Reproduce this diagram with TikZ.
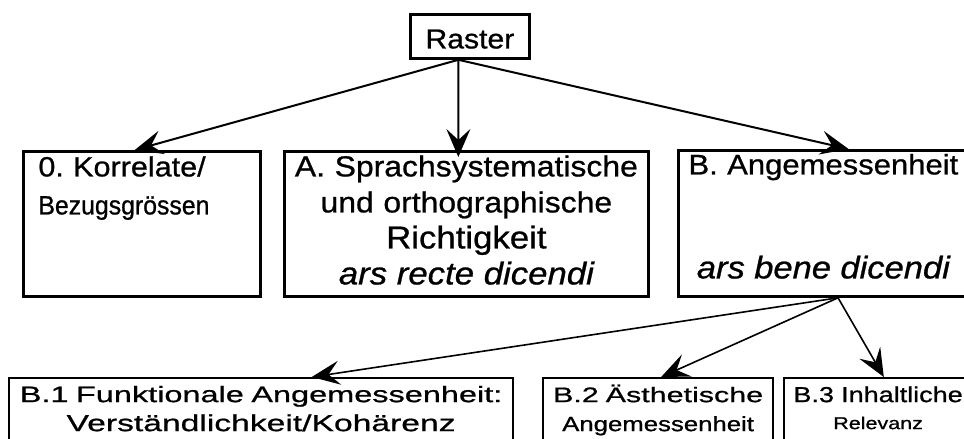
\documentclass[tikz,border=0pt]{standalone}
\usepackage{fontspec}
\setmainfont[FakeStretch=1.1,FakeBold=0.8]{Liberation Sans}
\newfontfamily\narrowfont[FakeStretch=0.94,FakeBold=0.8]{Liberation Sans}
\newfontfamily\widefont[FakeStretch=1.45,FakeBold=0.8]{Liberation Sans}
\newfontfamily\lowfont[FakeStretch=1.25,FakeBold=0.9]{Liberation Sans}
\usetikzlibrary{arrows.meta,calc}
\tikzset{
  box/.style={draw, line width=1.4pt, anchor=north west, inner sep=0pt,
    align=center, text height=12.5pt, text depth=60pt},
  subbox/.style={box, line width=1.1pt, text height=12pt, text depth=40pt},
  link/.style={-{Stealth[length=14pt,width=12pt,inset=5.5pt]}, line width=1pt},
}
\frenchspacing
\begin{document}
\begin{tikzpicture}[x=0.5pt,y=-0.5pt]
    \useasboundingbox (0,0) rectangle (964,439);
    \clip (0,0) rectangle (964,439);
    % top and middle row
    \node[box, text width=59.5pt, text height=17pt, text depth=5pt,
      font=\fontsize{13.7}{18}\selectfont] (raster) at (409,13) {Raster};
    \node[box, align=left, inner xsep=7.5pt, text width=103.5pt,
      font=\fontsize{13.9}{18}\selectfont] (korr) at (22,150)
      {0. Korrelate/\\[1pt]{\narrowfont\fontsize{13.2}{18}\selectfont Bezugsgrössen}};
    \node[box, text width=182pt, font=\fontsize{14.5}{18}\selectfont] (sprach) at (283,150)
      {A. Sprachsystematische\\und orthographische\\
       {\fontsize{15.8}{18}\selectfont Richtigkeit}\\
       {\fontsize{15.8}{18}\selectfont\itshape ars recte dicendi}};
    \node[box, text width=145pt, text height=12pt, text depth=61pt,
      font=\fontsize{14.1}{18}\selectfont] (angem) at (677,149)
      {B. Angemessenheit\\[34pt]{\fontsize{15.7}{18}\selectfont\itshape ars bene dicendi}};
    % bottom row
    \node[subbox, text width=252pt, font=\widefont\fontsize{11.2}{14.5}\selectfont] (funkt) at (8,377)
      {B.1 Funktionale Angemessenheit:\\{\fontsize{11.6}{14.5}\selectfont Verständlichkeit/Kohärenz}};
    \node[subbox, text width=115pt, font=\widefont\fontsize{10.5}{14.5}\selectfont] (aesth) at (542,377)
      {B.2 Ästhetische\\{\lowfont\fontsize{10.3}{14.5}\selectfont Angemessenheit}};
    \node[subbox, text width=94pt, font=\lowfont\fontsize{10.8}{14.5}\selectfont] (inhalt) at (783,377)
      {B.3 Inhaltliche\\[-1pt]{\fontsize{8.6}{14.5}\selectfont Relevanz}};
    % arrows
    \coordinate (rasterfoot) at ($(raster.south)+(-11.5,0)$);
    \coordinate (angemfoot) at ($(angem.south west)!0.55!(angem.south east)$);
    \draw[link] (rasterfoot) -- ($(korr.north west)!0.47!(korr.north east)$);
    \draw[link] (rasterfoot) -- ($(sprach.north west)!0.478!(sprach.north east)+(0,7)$);
    \draw[link] (rasterfoot) -- ($(angem.north west)!0.586!(angem.north east)$);
    \draw[link, line width=0.8pt] (angemfoot) -- ($(funkt.north west)!0.6!(funkt.north east)$);
    \draw[link, line width=0.8pt] (angemfoot) -- ($(aesth.north west)!0.513!(aesth.north east)$);
    \draw[link, line width=0.8pt] (angemfoot) -- ($(inhalt.north west)!0.53!(inhalt.north east)$);
  \end{tikzpicture}
\end{document}
